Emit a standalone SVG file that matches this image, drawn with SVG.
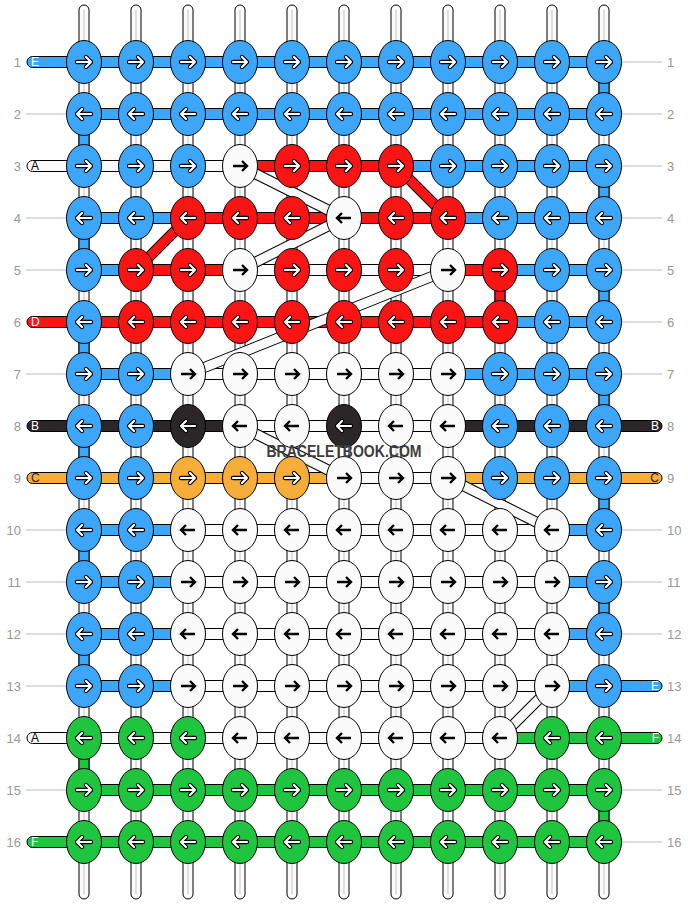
<svg xmlns="http://www.w3.org/2000/svg" xmlns:xlink="http://www.w3.org/1999/xlink" width="688" height="904" viewBox="0 0 688 904">
<style>
.b{fill:#3ca6fa}.r{fill:#fa1414}.w{fill:#fafafa}.k{fill:#2b2729}.o{fill:#f6ad3a}.g{fill:#1fc43f}
.s{stroke:#000;stroke-width:1}
.vs{fill:#fafafa;stroke:#000;stroke-width:1}
.vc{stroke:#c4c4c4;stroke-width:1}
.gl{stroke:#bdbdbd;stroke-width:1}
.num{font-family:"Liberation Sans",Arial,sans-serif;font-size:13px;fill:#999}
.lt{font-family:"Liberation Sans",Arial,sans-serif;font-size:12px}
.dk{stroke:#000;stroke-width:11;fill:none}
.dw{stroke:#fafafa;stroke-width:9;fill:none}
.dr{stroke:#fa1414;stroke-width:9;fill:none}
.wm{font-family:"Liberation Sans",Arial,sans-serif;font-weight:bold;font-size:16px;fill:#3d3d3d}
</style>
<defs>
<path id="ar" d="M-7,0H7M2,-5L7,0L2,5" fill="none"/>
<ellipse id="e" rx="17.5" ry="21.5" stroke="#000" stroke-width="1"/>
<g id="aw" stroke-linecap="round" stroke-linejoin="round"><use href="#ar" stroke="#000" stroke-width="4.4"/><use href="#ar" stroke="#fff" stroke-width="2.2"/></g>
<g id="ab"><use href="#ar" stroke="#000" stroke-width="2.4"/></g>
<g id="bR"><use href="#e" class="b"/><use href="#aw"/></g>
<g id="bL"><use href="#e" class="b"/><use href="#aw" transform="scale(-1,1)"/></g>
<g id="rR"><use href="#e" class="r"/><use href="#aw"/></g>
<g id="rL"><use href="#e" class="r"/><use href="#aw" transform="scale(-1,1)"/></g>
<g id="kR"><use href="#e" class="k"/><use href="#aw"/></g>
<g id="kL"><use href="#e" class="k"/><use href="#aw" transform="scale(-1,1)"/></g>
<g id="oR"><use href="#e" class="o"/><use href="#aw"/></g>
<g id="oL"><use href="#e" class="o"/><use href="#aw" transform="scale(-1,1)"/></g>
<g id="gR"><use href="#e" class="g"/><use href="#aw"/></g>
<g id="gL"><use href="#e" class="g"/><use href="#aw" transform="scale(-1,1)"/></g>
<g id="wR"><use href="#e" class="w"/><use href="#ab"/></g>
<g id="wL"><use href="#e" class="w"/><use href="#ab" transform="scale(-1,1)"/></g>
</defs>
<rect width="688" height="904" fill="#fff"/>
<g id="strands">
<rect class="vs" x="79" y="5" width="10" height="894" rx="5"/>
<rect class="vs" x="131" y="5" width="10" height="894" rx="5"/>
<rect class="vs" x="183" y="5" width="10" height="894" rx="5"/>
<rect class="vs" x="235" y="5" width="10" height="894" rx="5"/>
<rect class="vs" x="287" y="5" width="10" height="894" rx="5"/>
<rect class="vs" x="339" y="5" width="10" height="894" rx="5"/>
<rect class="vs" x="391" y="5" width="10" height="894" rx="5"/>
<rect class="vs" x="443" y="5" width="10" height="894" rx="5"/>
<rect class="vs" x="495" y="5" width="10" height="894" rx="5"/>
<rect class="vs" x="547" y="5" width="10" height="894" rx="5"/>
<rect class="vs" x="599" y="5" width="10" height="894" rx="5"/>
<path class="vc" d="M84,10V894M136,10V894M188,10V894M240,10V894M292,10V894M344,10V894M396,10V894M448,10V894M500,10V894M552,10V894M604,10V894"/>
</g>
<g id="connectors">
<g id="edges">
<rect class="s b" x="79" y="114" width="10" height="52"/>
<rect class="s b" x="79" y="218" width="10" height="52"/>
<rect class="s b" x="79" y="322" width="10" height="52"/>
<rect class="s b" x="79" y="426" width="10" height="52"/>
<rect class="s b" x="79" y="530" width="10" height="52"/>
<rect class="s b" x="79" y="634" width="10" height="52"/>
<rect class="s g" x="79" y="738" width="10" height="52"/>
<rect class="s b" x="599" y="62" width="10" height="52"/>
<rect class="s b" x="599" y="166" width="10" height="52"/>
<rect class="s b" x="599" y="270" width="10" height="52"/>
<rect class="s b" x="599" y="374" width="10" height="52"/>
<rect class="s b" x="599" y="478" width="10" height="52"/>
<rect class="s b" x="599" y="582" width="10" height="52"/>
<rect class="s g" x="599" y="790" width="10" height="52"/>
<rect class="s r" x="495" y="270" width="10" height="52"/>
</g>
<g id="rows">
<rect class="s b" x="27" y="56.5" width="577" height="11" rx="5.5"/>
<rect class="s b" x="84" y="108.5" width="520" height="11"/>
<rect class="s w" x="27" y="160.5" width="213" height="11" rx="5.5"/>
<rect class="s r" x="240" y="160.5" width="156" height="11"/>
<rect class="s b" x="396" y="160.5" width="208" height="11"/>
<rect class="s b" x="84" y="212.5" width="104" height="11"/>
<rect class="s r" x="188" y="212.5" width="260" height="11"/>
<rect class="s b" x="448" y="212.5" width="156" height="11"/>
<rect class="s b" x="84" y="264.5" width="52" height="11"/>
<rect class="s r" x="136" y="264.5" width="104" height="11"/>
<rect class="s w" x="240" y="264.5" width="208" height="11"/>
<rect class="s r" x="448" y="264.5" width="52" height="11"/>
<rect class="s b" x="500" y="264.5" width="104" height="11"/>
<rect class="s r" x="27" y="316.5" width="473" height="11" rx="5.5"/>
<rect class="s b" x="500" y="316.5" width="104" height="11"/>
<rect class="s b" x="84" y="368.5" width="104" height="11"/>
<rect class="s w" x="188" y="368.5" width="260" height="11"/>
<rect class="s b" x="448" y="368.5" width="156" height="11"/>
<rect class="s k" x="27" y="420.5" width="213" height="11" rx="5.5"/>
<rect class="s w" x="240" y="420.5" width="208" height="11"/>
<rect class="s k" x="448" y="420.5" width="214" height="11" rx="5.5"/>
<rect class="s o" x="27" y="472.5" width="317" height="11" rx="5.5"/>
<rect class="s w" x="344" y="472.5" width="104" height="11"/>
<rect class="s o" x="448" y="472.5" width="214" height="11" rx="5.5"/>
<rect class="s b" x="84" y="524.5" width="104" height="11"/>
<rect class="s w" x="188" y="524.5" width="364" height="11"/>
<rect class="s b" x="552" y="524.5" width="52" height="11"/>
<rect class="s b" x="84" y="576.5" width="104" height="11"/>
<rect class="s w" x="188" y="576.5" width="364" height="11"/>
<rect class="s b" x="552" y="576.5" width="52" height="11"/>
<rect class="s b" x="84" y="628.5" width="104" height="11"/>
<rect class="s w" x="188" y="628.5" width="364" height="11"/>
<rect class="s b" x="552" y="628.5" width="52" height="11"/>
<rect class="s b" x="84" y="680.5" width="104" height="11"/>
<rect class="s w" x="188" y="680.5" width="364" height="11"/>
<rect class="s b" x="552" y="680.5" width="110" height="11" rx="5.5"/>
<rect class="s w" x="27" y="732.5" width="473" height="11" rx="5.5"/>
<rect class="s g" x="500" y="732.5" width="162" height="11" rx="5.5"/>
<rect class="s g" x="84" y="784.5" width="520" height="11"/>
<rect class="s g" x="27" y="836.5" width="577" height="11" rx="5.5"/>
</g>
<g id="diagonals">
<path class="dk" d="M240,166L344,218M344,218L240,270M448,270L188,374M240,426L344,478M448,478L552,530M552,686L500,738M396,166L448,218M136,270L188,218"/>
<path class="dw" d="M240,166L344,218M344,218L240,270M448,270L188,374M240,426L344,478M448,478L552,530M552,686L500,738"/>
<path class="dr" d="M396,166L448,218M136,270L188,218"/>
</g>
<g id="guides">
<path class="gl" d="M26,114H66M26,218H66M26,270H66M26,374H66M26,530H66M26,582H66M26,634H66M26,686H66M26,790H66"/>
<path class="gl" d="M622,62H662M622,114H662M622,166H662M622,218H662M622,270H662M622,322H662M622,374H662M622,530H662M622,582H662M622,634H662M622,790H662M622,842H662"/>
</g>
</g>
<g id="knots">
<g id="n1-1"><use href="#bR" x="84" y="62"/></g><g id="n1-2"><use href="#bR" x="136" y="62"/></g><g id="n1-3"><use href="#bR" x="188" y="62"/></g><g id="n1-4"><use href="#bR" x="240" y="62"/></g><g id="n1-5"><use href="#bR" x="292" y="62"/></g><g id="n1-6"><use href="#bR" x="344" y="62"/></g><g id="n1-7"><use href="#bR" x="396" y="62"/></g><g id="n1-8"><use href="#bR" x="448" y="62"/></g><g id="n1-9"><use href="#bR" x="500" y="62"/></g><g id="n1-10"><use href="#bR" x="552" y="62"/></g><g id="n1-11"><use href="#bR" x="604" y="62"/></g>
<g id="n2-1"><use href="#bL" x="84" y="114"/></g><g id="n2-2"><use href="#bL" x="136" y="114"/></g><g id="n2-3"><use href="#bL" x="188" y="114"/></g><g id="n2-4"><use href="#bL" x="240" y="114"/></g><g id="n2-5"><use href="#bL" x="292" y="114"/></g><g id="n2-6"><use href="#bL" x="344" y="114"/></g><g id="n2-7"><use href="#bL" x="396" y="114"/></g><g id="n2-8"><use href="#bL" x="448" y="114"/></g><g id="n2-9"><use href="#bL" x="500" y="114"/></g><g id="n2-10"><use href="#bL" x="552" y="114"/></g><g id="n2-11"><use href="#bL" x="604" y="114"/></g>
<g id="n3-1"><use href="#bR" x="84" y="166"/></g><g id="n3-2"><use href="#bR" x="136" y="166"/></g><g id="n3-3"><use href="#bR" x="188" y="166"/></g><g id="n3-4"><use href="#wR" x="240" y="166"/></g><g id="n3-5"><use href="#rR" x="292" y="166"/></g><g id="n3-6"><use href="#rR" x="344" y="166"/></g><g id="n3-7"><use href="#rR" x="396" y="166"/></g><g id="n3-8"><use href="#bR" x="448" y="166"/></g><g id="n3-9"><use href="#bR" x="500" y="166"/></g><g id="n3-10"><use href="#bR" x="552" y="166"/></g><g id="n3-11"><use href="#bR" x="604" y="166"/></g>
<g id="n4-1"><use href="#bL" x="84" y="218"/></g><g id="n4-2"><use href="#bL" x="136" y="218"/></g><g id="n4-3"><use href="#rL" x="188" y="218"/></g><g id="n4-4"><use href="#rL" x="240" y="218"/></g><g id="n4-5"><use href="#rL" x="292" y="218"/></g><g id="n4-6"><use href="#wL" x="344" y="218"/></g><g id="n4-7"><use href="#rL" x="396" y="218"/></g><g id="n4-8"><use href="#rL" x="448" y="218"/></g><g id="n4-9"><use href="#bL" x="500" y="218"/></g><g id="n4-10"><use href="#bL" x="552" y="218"/></g><g id="n4-11"><use href="#bL" x="604" y="218"/></g>
<g id="n5-1"><use href="#bR" x="84" y="270"/></g><g id="n5-2"><use href="#rR" x="136" y="270"/></g><g id="n5-3"><use href="#rR" x="188" y="270"/></g><g id="n5-4"><use href="#wR" x="240" y="270"/></g><g id="n5-5"><use href="#rR" x="292" y="270"/></g><g id="n5-6"><use href="#rR" x="344" y="270"/></g><g id="n5-7"><use href="#rR" x="396" y="270"/></g><g id="n5-8"><use href="#wR" x="448" y="270"/></g><g id="n5-9"><use href="#rR" x="500" y="270"/></g><g id="n5-10"><use href="#bR" x="552" y="270"/></g><g id="n5-11"><use href="#bR" x="604" y="270"/></g>
<g id="n6-1"><use href="#bL" x="84" y="322"/></g><g id="n6-2"><use href="#rL" x="136" y="322"/></g><g id="n6-3"><use href="#rL" x="188" y="322"/></g><g id="n6-4"><use href="#rL" x="240" y="322"/></g><g id="n6-5"><use href="#rL" x="292" y="322"/></g><g id="n6-6"><use href="#rL" x="344" y="322"/></g><g id="n6-7"><use href="#rL" x="396" y="322"/></g><g id="n6-8"><use href="#rL" x="448" y="322"/></g><g id="n6-9"><use href="#rL" x="500" y="322"/></g><g id="n6-10"><use href="#bL" x="552" y="322"/></g><g id="n6-11"><use href="#bL" x="604" y="322"/></g>
<g id="n7-1"><use href="#bR" x="84" y="374"/></g><g id="n7-2"><use href="#bR" x="136" y="374"/></g><g id="n7-3"><use href="#wR" x="188" y="374"/></g><g id="n7-4"><use href="#wR" x="240" y="374"/></g><g id="n7-5"><use href="#wR" x="292" y="374"/></g><g id="n7-6"><use href="#wR" x="344" y="374"/></g><g id="n7-7"><use href="#wR" x="396" y="374"/></g><g id="n7-8"><use href="#wR" x="448" y="374"/></g><g id="n7-9"><use href="#bR" x="500" y="374"/></g><g id="n7-10"><use href="#bR" x="552" y="374"/></g><g id="n7-11"><use href="#bR" x="604" y="374"/></g>
<g id="n8-1"><use href="#bL" x="84" y="426"/></g><g id="n8-2"><use href="#bL" x="136" y="426"/></g><g id="n8-3"><use href="#kL" x="188" y="426"/></g><g id="n8-4"><use href="#wL" x="240" y="426"/></g><g id="n8-5"><use href="#wL" x="292" y="426"/></g><g id="n8-6"><use href="#kL" x="344" y="426"/></g><g id="n8-7"><use href="#wL" x="396" y="426"/></g><g id="n8-8"><use href="#wL" x="448" y="426"/></g><g id="n8-9"><use href="#bL" x="500" y="426"/></g><g id="n8-10"><use href="#bL" x="552" y="426"/></g><g id="n8-11"><use href="#bL" x="604" y="426"/></g>
<g id="n9-1"><use href="#bR" x="84" y="478"/></g><g id="n9-2"><use href="#bR" x="136" y="478"/></g><g id="n9-3"><use href="#oR" x="188" y="478"/></g><g id="n9-4"><use href="#oR" x="240" y="478"/></g><g id="n9-5"><use href="#oR" x="292" y="478"/></g><g id="n9-6"><use href="#wR" x="344" y="478"/></g><g id="n9-7"><use href="#wR" x="396" y="478"/></g><g id="n9-8"><use href="#wR" x="448" y="478"/></g><g id="n9-9"><use href="#bR" x="500" y="478"/></g><g id="n9-10"><use href="#bR" x="552" y="478"/></g><g id="n9-11"><use href="#bR" x="604" y="478"/></g>
<g id="n10-1"><use href="#bL" x="84" y="530"/></g><g id="n10-2"><use href="#bL" x="136" y="530"/></g><g id="n10-3"><use href="#wL" x="188" y="530"/></g><g id="n10-4"><use href="#wL" x="240" y="530"/></g><g id="n10-5"><use href="#wL" x="292" y="530"/></g><g id="n10-6"><use href="#wL" x="344" y="530"/></g><g id="n10-7"><use href="#wL" x="396" y="530"/></g><g id="n10-8"><use href="#wL" x="448" y="530"/></g><g id="n10-9"><use href="#wL" x="500" y="530"/></g><g id="n10-10"><use href="#wL" x="552" y="530"/></g><g id="n10-11"><use href="#bL" x="604" y="530"/></g>
<g id="n11-1"><use href="#bR" x="84" y="582"/></g><g id="n11-2"><use href="#bR" x="136" y="582"/></g><g id="n11-3"><use href="#wR" x="188" y="582"/></g><g id="n11-4"><use href="#wR" x="240" y="582"/></g><g id="n11-5"><use href="#wR" x="292" y="582"/></g><g id="n11-6"><use href="#wR" x="344" y="582"/></g><g id="n11-7"><use href="#wR" x="396" y="582"/></g><g id="n11-8"><use href="#wR" x="448" y="582"/></g><g id="n11-9"><use href="#wR" x="500" y="582"/></g><g id="n11-10"><use href="#wR" x="552" y="582"/></g><g id="n11-11"><use href="#bR" x="604" y="582"/></g>
<g id="n12-1"><use href="#bL" x="84" y="634"/></g><g id="n12-2"><use href="#bL" x="136" y="634"/></g><g id="n12-3"><use href="#wL" x="188" y="634"/></g><g id="n12-4"><use href="#wL" x="240" y="634"/></g><g id="n12-5"><use href="#wL" x="292" y="634"/></g><g id="n12-6"><use href="#wL" x="344" y="634"/></g><g id="n12-7"><use href="#wL" x="396" y="634"/></g><g id="n12-8"><use href="#wL" x="448" y="634"/></g><g id="n12-9"><use href="#wL" x="500" y="634"/></g><g id="n12-10"><use href="#wL" x="552" y="634"/></g><g id="n12-11"><use href="#bL" x="604" y="634"/></g>
<g id="n13-1"><use href="#bR" x="84" y="686"/></g><g id="n13-2"><use href="#bR" x="136" y="686"/></g><g id="n13-3"><use href="#wR" x="188" y="686"/></g><g id="n13-4"><use href="#wR" x="240" y="686"/></g><g id="n13-5"><use href="#wR" x="292" y="686"/></g><g id="n13-6"><use href="#wR" x="344" y="686"/></g><g id="n13-7"><use href="#wR" x="396" y="686"/></g><g id="n13-8"><use href="#wR" x="448" y="686"/></g><g id="n13-9"><use href="#wR" x="500" y="686"/></g><g id="n13-10"><use href="#wR" x="552" y="686"/></g><g id="n13-11"><use href="#bR" x="604" y="686"/></g>
<g id="n14-1"><use href="#gL" x="84" y="738"/></g><g id="n14-2"><use href="#gL" x="136" y="738"/></g><g id="n14-3"><use href="#gL" x="188" y="738"/></g><g id="n14-4"><use href="#wL" x="240" y="738"/></g><g id="n14-5"><use href="#wL" x="292" y="738"/></g><g id="n14-6"><use href="#wL" x="344" y="738"/></g><g id="n14-7"><use href="#wL" x="396" y="738"/></g><g id="n14-8"><use href="#wL" x="448" y="738"/></g><g id="n14-9"><use href="#wL" x="500" y="738"/></g><g id="n14-10"><use href="#gL" x="552" y="738"/></g><g id="n14-11"><use href="#gL" x="604" y="738"/></g>
<g id="n15-1"><use href="#gR" x="84" y="790"/></g><g id="n15-2"><use href="#gR" x="136" y="790"/></g><g id="n15-3"><use href="#gR" x="188" y="790"/></g><g id="n15-4"><use href="#gR" x="240" y="790"/></g><g id="n15-5"><use href="#gR" x="292" y="790"/></g><g id="n15-6"><use href="#gR" x="344" y="790"/></g><g id="n15-7"><use href="#gR" x="396" y="790"/></g><g id="n15-8"><use href="#gR" x="448" y="790"/></g><g id="n15-9"><use href="#gR" x="500" y="790"/></g><g id="n15-10"><use href="#gR" x="552" y="790"/></g><g id="n15-11"><use href="#gR" x="604" y="790"/></g>
<g id="n16-1"><use href="#gL" x="84" y="842"/></g><g id="n16-2"><use href="#gL" x="136" y="842"/></g><g id="n16-3"><use href="#gL" x="188" y="842"/></g><g id="n16-4"><use href="#gL" x="240" y="842"/></g><g id="n16-5"><use href="#gL" x="292" y="842"/></g><g id="n16-6"><use href="#gL" x="344" y="842"/></g><g id="n16-7"><use href="#gL" x="396" y="842"/></g><g id="n16-8"><use href="#gL" x="448" y="842"/></g><g id="n16-9"><use href="#gL" x="500" y="842"/></g><g id="n16-10"><use href="#gL" x="552" y="842"/></g><g id="n16-11"><use href="#gL" x="604" y="842"/></g>
</g>
<g id="labels">
<g class="num" text-anchor="end">
<text x="21" y="67">1</text><text x="21" y="119">2</text><text x="21" y="171">3</text><text x="21" y="223">4</text><text x="21" y="275">5</text><text x="21" y="327">6</text><text x="21" y="379">7</text><text x="21" y="431">8</text><text x="21" y="483">9</text><text x="21" y="535">10</text><text x="21" y="587">11</text><text x="21" y="639">12</text><text x="21" y="691">13</text><text x="21" y="743">14</text><text x="21" y="795">15</text><text x="21" y="847">16</text>
</g>
<g class="num">
<text x="667" y="67">1</text><text x="667" y="119">2</text><text x="667" y="171">3</text><text x="667" y="223">4</text><text x="667" y="275">5</text><text x="667" y="327">6</text><text x="667" y="379">7</text><text x="667" y="431">8</text><text x="667" y="483">9</text><text x="667" y="535">10</text><text x="667" y="587">11</text><text x="667" y="639">12</text><text x="667" y="691">13</text><text x="667" y="743">14</text><text x="667" y="795">15</text><text x="667" y="847">16</text>
</g>
<g class="lt">
<text x="31" y="66" fill="#fff">E</text>
<text x="31" y="170" fill="#000">A</text>
<text x="31" y="326" fill="#fff">D</text>
<text x="31" y="430" fill="#fff">B</text>
<text x="31" y="482" fill="#222">C</text>
<text x="31" y="742" fill="#000">A</text>
<text x="31" y="846" fill="#fff">F</text>
</g>
<g class="lt" text-anchor="end">
<text x="659" y="430" fill="#fff">B</text>
<text x="659" y="482" fill="#222">C</text>
<text x="659" y="690" fill="#fff">E</text>
<text x="659" y="742" fill="#fff">F</text>
</g>
<text class="wm" x="344" y="457" text-anchor="middle" textLength="155" lengthAdjust="spacingAndGlyphs">BRACELETBOOK.COM</text>
</g>
</svg>
